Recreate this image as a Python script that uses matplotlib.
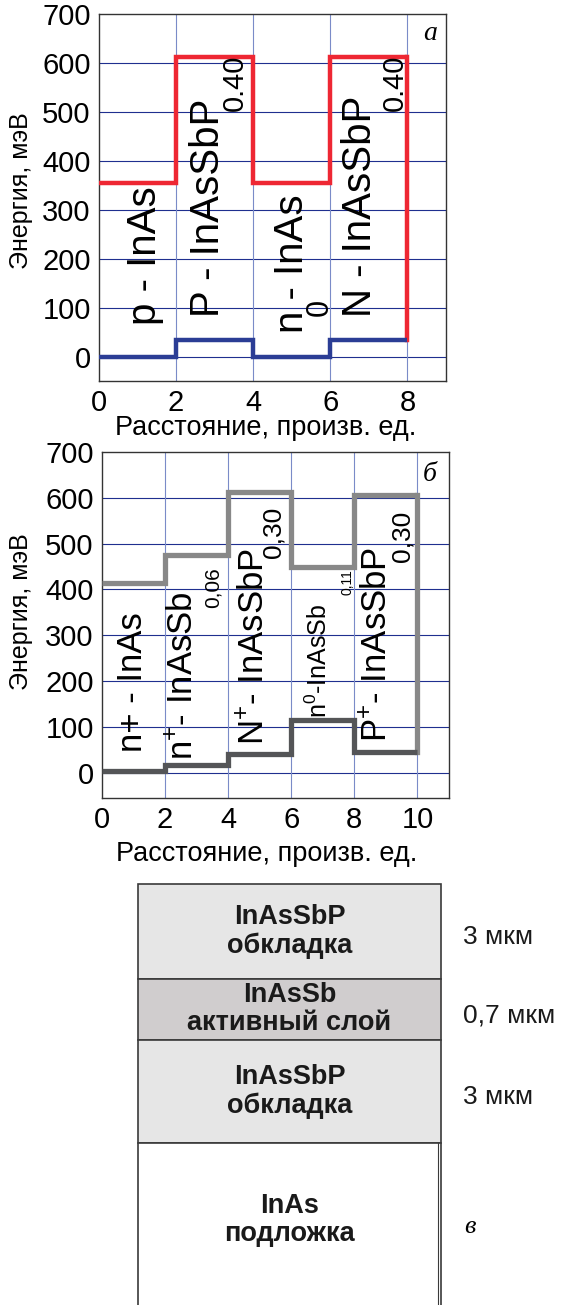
# energy band diagrams of InAs/InAsSbP heterostructures + layer scheme
import numpy as np
import matplotlib as mpl
mpl.use('Agg')
import matplotlib.pyplot as plt

plt.rcParams['font.family'] = ['Liberation Sans', 'DejaVu Sans']
plt.rcParams['mathtext.fontset'] = 'custom'
plt.rcParams['mathtext.rm'] = 'Liberation Sans'
plt.rcParams['mathtext.it'] = 'Liberation Sans'

# ---- panel a data
edges_a = [0, 2, 4, 6, 8]
upper_a = [355, 613, 355, 613]
lower_a = [0, 33, 0, 33]
labels_a = ["p - InAs", "P - InAsSbP", "n - InAs", "N - InAsSbP"]
label_x_a = [1.19, 2.83, 5.0, 6.76]
label_y_a = [65, 81, 49, 80]
subs_a = ["", "0.40", "0", "0.40"]
sub_x_a = [0, 3.52, 5.73, 7.67]
sub_y_a = [0, 560, 100, 560]

# ---- panel b data
edges_b = [0, 2, 4, 6, 8, 10]
upper_b = [415, 475, 612, 450, 607]
lower_b = [3, 18, 40, 115, 45]
labels_b = ["n+ - InAs", "n$^{+}$- InAsSb", "N$^{+}$- InAsSbP", "n$^{0}$-InAsSb", "P$^{+}$- InAsSbP"]
label_x_b = [0.98, 2.58, 4.83, 6.87, 8.73]
label_y_b = [46, 28, 61, 120, 68]
label_fs_b = [25, 25, 25, 18, 25]
subs_b = ["", "0,06", "0,30", "0,11", "0,30"]
sub_x_b = [0, 3.53, 5.43, 7.78, 9.52]
sub_y_b = [0, 405, 525, 415, 515]
sub_fs_b = [0, 15, 19, 10, 19]

# ---- panel c data
layer_names = ["InAsSbP\nобкладка", "InAsSb\nактивный слой", "InAsSbP\nобкладка", "InAs\nподложка"]
layer_thick = ["3 мкм", "0,7 мкм", "3 мкм", ""]
layer_heights = [95, 61, 103, 200]
layer_colors = ["#e6e6e6", "#d0cdce", "#e6e6e6", "#ffffff"]

W, H = 568, 1305
fig = plt.figure(figsize=(W/100., H/100.), dpi=100)

hgrid = "#1f2f8f"
vgrid = "#7a8bc8"


def setup_axes(ax, xmax, ymin):
  ax.set_xlim(0, xmax)
  ax.set_ylim(ymin, 700)
  ax.set_yticks(np.arange(0, 701, 100))
  ax.set_xticks(np.arange(0, xmax, 2))
  ax.tick_params(length=0, labelsize=21, pad=6)
  for s in ax.spines.values():
    s.set_color("#333333")
    s.set_linewidth(1.0)
  for yy in range(0, 700, 100):
    ax.axhline(yy, color=hgrid, lw=0.8, zorder=1)
  for xx in np.arange(2, xmax, 2):
    ax.axvline(xx, color=vgrid, lw=0.8, zorder=1)


# ---------------- panel a
ax = fig.add_axes([99/W, 1-381/H, 347/W, 367/H])
setup_axes(ax, 9, -50)
ax.stairs(upper_a, edges_a, baseline=None, color="#ee2733", lw=3.2, zorder=3)
ax.plot([edges_a[-1], edges_a[-1]], [upper_a[-1], lower_a[-1]], color="#ee2733", lw=3.2, zorder=3)
ax.stairs(lower_a, edges_a, baseline=None, color="#2b3d95", lw=3.2, zorder=4)
for i in range(len(labels_a)):
  ax.text(label_x_a[i], label_y_a[i], labels_a[i], rotation=90, ha='center', va='bottom',
          fontsize=29, zorder=5)
  if subs_a[i]:
    ax.text(sub_x_a[i], sub_y_a[i], subs_a[i], rotation=90, ha='center', va='center',
            fontsize=21 if len(subs_a[i]) > 1 else 22, zorder=5)
ax.text(8.58, 660, "a", family="Liberation Serif", style="italic", fontsize=20,
        ha='center', va='center')
ax.set_xlabel("Расстояние, произв. ед.", fontsize=19.5)
ax.xaxis.set_label_coords(0.48, -0.093)
ax.set_ylabel("Энергия, мэВ", fontsize=18)
ax.yaxis.set_label_coords(-0.19, 0.52)

# ---------------- panel b
ax = fig.add_axes([102/W, 1-798/H, 347/W, 346/H])
setup_axes(ax, 11, -55)
ax.stairs(upper_b, edges_b, baseline=None, color="#888888", lw=3.8, zorder=3)
ax.plot([edges_b[-1], edges_b[-1]], [upper_b[-1], lower_b[-1]], color="#888888", lw=3.8, zorder=3)
ax.stairs(lower_b, edges_b, baseline=None, color="#545557", lw=3.8, zorder=4)
for i in range(len(labels_b)):
  ax.text(label_x_b[i], label_y_b[i], labels_b[i], rotation=90, ha='center', va='bottom',
          fontsize=label_fs_b[i], zorder=5)
  if subs_b[i]:
    ax.text(sub_x_b[i], sub_y_b[i], subs_b[i], rotation=90, ha='center', va='center',
            fontsize=sub_fs_b[i], zorder=5)
ax.text(10.4, 650, "б", family="Liberation Serif", style="italic", fontsize=20,
        ha='center', va='center')
ax.set_xlabel("Расстояние, произв. ед.", fontsize=19.5)
ax.xaxis.set_label_coords(0.475, -0.125)
ax.set_ylabel("Энергия, мэВ", fontsize=18)
ax.yaxis.set_label_coords(-0.2, 0.54)

# ---------------- panel c: layer scheme
ax = fig.add_axes([0, 0, 1, 445/H])
ax.set_xlim(0, W)
ax.set_ylim(445, 0)
ax.axis('off')
bottoms = 24 + np.concatenate([[0], np.cumsum(layer_heights)[:-1]])
ax.bar(289.5, layer_heights, width=303, bottom=bottoms, color=layer_colors,
       edgecolor="#3a3a3a", linewidth=1.2)
# substrate has a doubled right edge
ax.plot([438, 438], [bottoms[-1], bottoms[-1] + layer_heights[-1]], color="#3a3a3a", lw=0.8)
for i in range(len(layer_names)):
  yc = bottoms[i] + layer_heights[i]/2.
  if i == len(layer_names)-1:
    yc = bottoms[i] + 77
  ax.text(289.5, yc, layer_names[i], ha='center', va='center', fontsize=19.5,
          fontweight='bold', linespacing=1.1, color="#1a1a1a")
  if layer_thick[i]:
    ax.text(463, yc + 6, layer_thick[i], ha='left', va='center', fontsize=19, color="#1a1a1a")
ax.text(464, 367, "в", family="Liberation Serif", style="italic", fontsize=19,
        ha='left', va='center')

plt.savefig("out.png", dpi=100)
